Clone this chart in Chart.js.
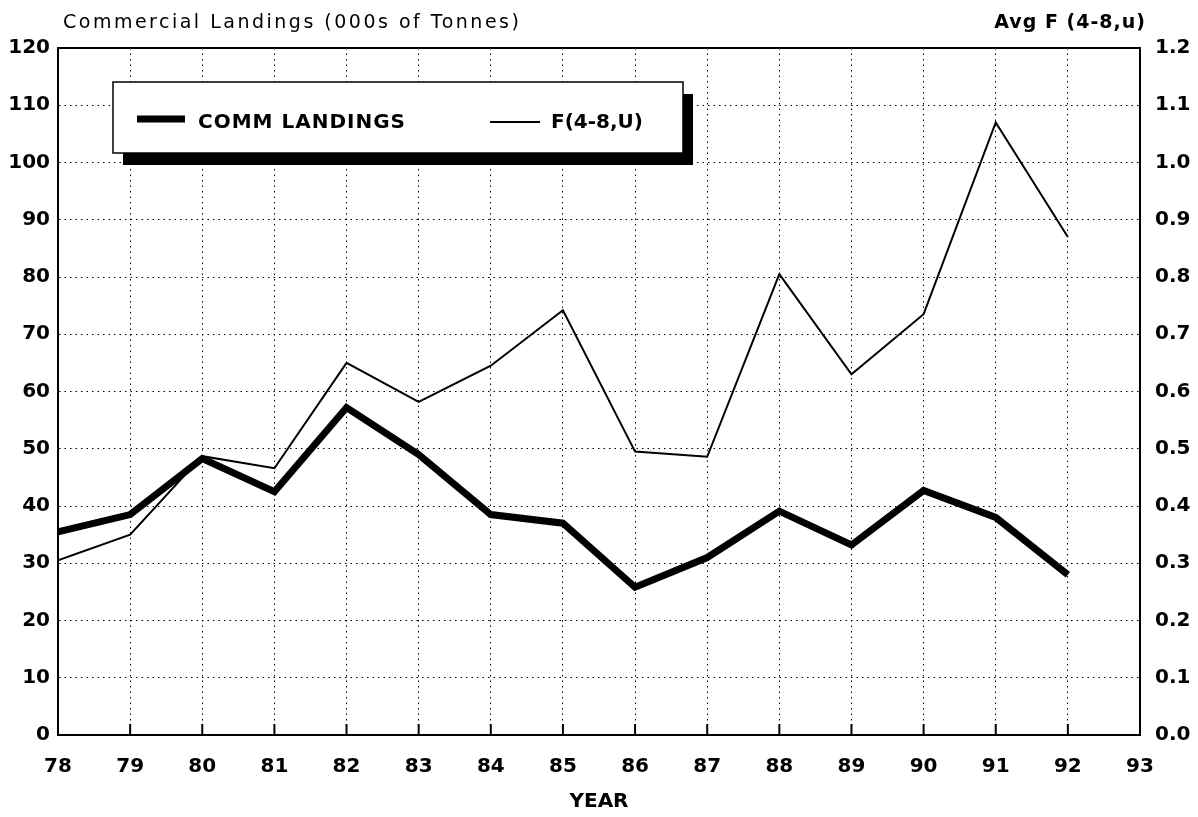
<!DOCTYPE html>
<html>
<head>
<meta charset="utf-8">
<title>Commercial Landings and Avg F</title>
<script src="https://cdn.jsdelivr.net/npm/chart.js@4.4.0/dist/chart.umd.min.js"></script>
<style>
  html, body { margin: 0; padding: 0; background: #ffffff; }
  #wrap { width: 1198px; height: 817px; position: relative; }
</style>
</head>
<body>
<div id="wrap"><canvas id="chart" width="1198" height="817"></canvas></div>
<script>
// Years (two-digit) and the two series
const years = [78, 79, 80, 81, 82, 83, 84, 85, 86, 87, 88, 89, 90, 91, 92];
const commLandings = [35.5, 38.5, 48.3, 42.5, 57.2, 49.0, 38.5, 37.0, 25.8, 31.0, 39.1, 33.2, 42.7, 38.0, 28.0];
const avgF = [0.305, 0.35, 0.487, 0.466, 0.65, 0.582, 0.645, 0.742, 0.495, 0.486, 0.805, 0.63, 0.735, 1.07, 0.87];

// Axis tick labels
const yearLabels = ['78', '79', '80', '81', '82', '83', '84', '85', '86', '87', '88', '89', '90', '91', '92', '93'];
const landingsLabels = ['0', '10', '20', '30', '40', '50', '60', '70', '80', '90', '100', '110', '120'];
const fLabels = ['0.0', '0.1', '0.2', '0.3', '0.4', '0.5', '0.6', '0.7', '0.8', '0.9', '1.0', '1.1', '1.2'];

const FONT = "'DejaVu Sans', 'Liberation Sans', sans-serif";
const tickFont = { family: FONT, size: 20, weight: 'bold' };
const dots = [1.5, 4];

// Headings above the plot, box top edge, inward year ticks
const framePlugin = {
  id: 'frame',
  afterDraw(chart) {
    const ctx = chart.ctx;
    const a = chart.chartArea;
    ctx.save();
    ctx.strokeStyle = '#000';
    ctx.lineWidth = 2;
    ctx.beginPath();
    ctx.moveTo(a.left, a.top);
    ctx.lineTo(a.right, a.top);
    ctx.stroke();

    const xs = chart.scales.x;
    ctx.lineWidth = 2;
    xs.ticks.forEach(t => {
      const px = xs.getPixelForValue(t.value);
      if (px <= a.left + 1 || px >= a.right - 1) return;
      ctx.beginPath();
      ctx.moveTo(px, a.bottom);
      ctx.lineTo(px, a.bottom - 11);
      ctx.stroke();
    });

    ctx.fillStyle = '#000';
    ctx.textBaseline = 'alphabetic';
    ctx.font = "19px " + FONT;
    ctx.letterSpacing = '2.5px';
    ctx.textAlign = 'left';
    ctx.fillText('Commercial Landings (000s of Tonnes)', 63, 28);
    ctx.font = "bold 19px " + FONT;
    ctx.letterSpacing = '1px';
    ctx.textAlign = 'right';
    ctx.fillText('Avg F (4-8,u)', 1146, 28);
    ctx.restore();
  }
};

// Boxed legend with a drop shadow
const legendPlugin = {
  id: 'boxLegend',
  afterDatasetsDraw(chart) {
    const ctx = chart.ctx;
    const x = 113, y = 82, w = 570, h = 71;
    ctx.save();
    ctx.fillStyle = '#000';
    ctx.fillRect(x + 10, y + 12, w, h);
    ctx.fillStyle = '#fff';
    ctx.fillRect(x, y, w, h);
    ctx.strokeStyle = '#000';
    ctx.lineWidth = 1.5;
    ctx.strokeRect(x, y, w, h);

    const ds = chart.data.datasets;
    ctx.strokeStyle = ds[0].borderColor;
    ctx.lineWidth = ds[0].borderWidth;
    ctx.beginPath();
    ctx.moveTo(137, 119);
    ctx.lineTo(185, 119);
    ctx.stroke();

    ctx.strokeStyle = ds[1].borderColor;
    ctx.lineWidth = ds[1].borderWidth;
    ctx.beginPath();
    ctx.moveTo(490, 122);
    ctx.lineTo(540, 122);
    ctx.stroke();

    ctx.fillStyle = '#000';
    ctx.font = "bold 20px " + FONT;
    ctx.textBaseline = 'middle';
    ctx.textAlign = 'left';
    ctx.letterSpacing = '1px';
    ctx.fillText(ds[0].label, 198, 123);
    ctx.letterSpacing = '0px';
    ctx.fillText(ds[1].label, 551, 123);
    ctx.restore();
  }
};

new Chart(document.getElementById('chart'), {
  type: 'line',
  data: {
    datasets: [
      {
        label: 'COMM LANDINGS',
        data: years.map((yr, i) => ({ x: yr, y: commLandings[i] })),
        yAxisID: 'y',
        borderColor: '#000',
        borderWidth: 7,
        borderJoinStyle: 'miter',
        pointRadius: 0,
        tension: 0,
        fill: false
      },
      {
        label: 'F(4-8,U)',
        data: years.map((yr, i) => ({ x: yr, y: avgF[i] })),
        yAxisID: 'y2',
        borderColor: '#000',
        borderWidth: 2,
        borderJoinStyle: 'miter',
        pointRadius: 0,
        tension: 0,
        fill: false
      }
    ]
  },
  options: {
    responsive: false,
    animation: false,
    devicePixelRatio: 1,
    layout: { padding: { top: 48, left: 0, right: 0, bottom: 0 } },
    plugins: { legend: { display: false }, tooltip: { enabled: false } },
    scales: {
      x: {
        type: 'linear',
        position: 'bottom',
        min: 78,
        max: 93,
        afterFit(s) { s.height = 82; },
        ticks: {
          stepSize: 1,
          autoSkip: false,
          maxRotation: 0,
          padding: 20,
          color: '#000',
          font: tickFont,
          callback: (v) => yearLabels[Math.round(v) - 78]
        },
        grid: { color: '#000', lineWidth: 1, drawTicks: false },
        border: { display: true, color: '#000', width: 2, dash: dots },
        title: {
          display: true,
          text: 'YEAR',
          color: '#000',
          font: { family: FONT, size: 20, weight: 'bold' },
          padding: { top: 0, bottom: 3 }
        }
      },
      y: {
        position: 'left',
        min: 0,
        max: 120,
        afterFit(s) { s.width = 58; },
        ticks: {
          stepSize: 10,
          padding: 8,
          color: '#000',
          font: tickFont,
          callback: (v, i) => landingsLabels[i]
        },
        grid: { color: '#000', lineWidth: 1, drawTicks: false },
        border: { display: true, color: '#000', width: 2, dash: dots }
      },
      y2: {
        position: 'right',
        min: 0,
        max: 1.2,
        afterFit(s) { s.width = 58; },
        ticks: {
          stepSize: 0.1,
          padding: 15,
          color: '#000',
          font: tickFont,
          callback: (v, i) => fLabels[i]
        },
        grid: { drawOnChartArea: false, drawTicks: false },
        border: { display: true, color: '#000', width: 2 }
      }
    }
  },
  plugins: [framePlugin, legendPlugin]
});
</script>
</body>
</html>
